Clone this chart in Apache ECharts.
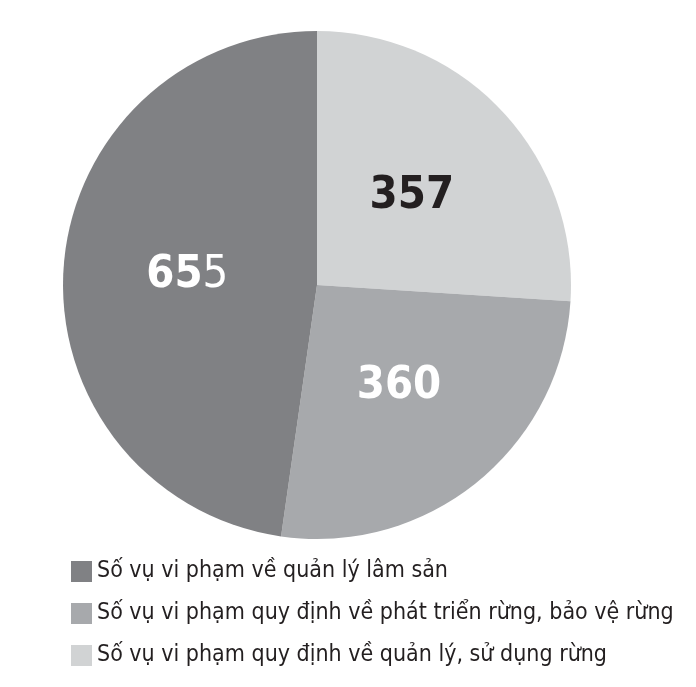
<!DOCTYPE html>
<html>
<head>
<meta charset="utf-8">
<script src="https://cdn.jsdelivr.net/npm/echarts@6/dist/echarts.min.js"></script>
<style>html,body{margin:0;padding:0;background:#fff;}#c{width:696px;height:687px;}</style>
</head>
<body>
<div id="c"></div>
<script>
// Data (pie order clockwise from 12 o'clock)
var categories = [
  'Số vụ vi phạm quy định về quản lý, sử dụng rừng',
  'Số vụ vi phạm quy định về phát triển rừng, bảo vệ rừng',
  'Số vụ vi phạm về quản lý lâm sản'
];
var values = [357, 360, 655];
var colors = ['#d1d3d4', '#a7a9ac', '#808184'];
var labelColors = ['#231f20', '#ffffff', '#ffffff'];
// legend order as shown
var legendOrder = [
  'Số vụ vi phạm về quản lý lâm sản',
  'Số vụ vi phạm quy định về phát triển rừng, bảo vệ rừng',
  'Số vụ vi phạm quy định về quản lý, sử dụng rừng'
];

var FONT = '"Liberation Sans Narrow", "DejaVu Sans Condensed", "Noto Sans", sans-serif';

var data = values.map(function (v, i) {
  var item = {
    name: categories[i],
    value: v,
    itemStyle: { color: colors[i] },
    label: { color: labelColors[i] }
  };
  if (i === 2) {
    // last digit rendered in regular weight, as in the original
    item.label.formatter = function (p) {
      var s = String(p.value);
      return '{b|' + s.slice(0, -1) + '}{n|' + s.slice(-1) + '}';
    };
  }
  return item;
});

var chart = echarts.init(document.getElementById('c'), null, { renderer: 'canvas' });
chart.setOption({
  backgroundColor: '#ffffff',
  animation: false,
  legend: {
    orient: 'vertical',
    left: 66,
    top: 555,
    itemWidth: 21,
    itemHeight: 21,
    itemGap: 19,
    icon: 'rect',
    data: legendOrder,
    textStyle: {
      fontFamily: FONT,
      fontSize: 23,
      lineHeight: 21,
      color: '#231f20'
    }
  },
  series: [{
    type: 'pie',
    center: [317, 285],
    radius: [0, 254],
    startAngle: 90,
    clockwise: true,
    avoidLabelOverlap: false,
    itemStyle: { borderWidth: 0 },
    label: {
      show: true,
      position: 'inside',
      formatter: '{c}',
      fontFamily: FONT,
      fontWeight: 'bold',
      fontSize: 45,
      rich: {
        b: { fontFamily: FONT, fontWeight: 'bold', fontSize: 45, color: '#ffffff' },
        n: { fontFamily: FONT, fontWeight: 'normal', fontSize: 45, color: '#ffffff' }
      }
    },
    labelLine: { show: false },
    emphasis: { disabled: true },
    data: data
  }]
});
</script>
</body>
</html>
